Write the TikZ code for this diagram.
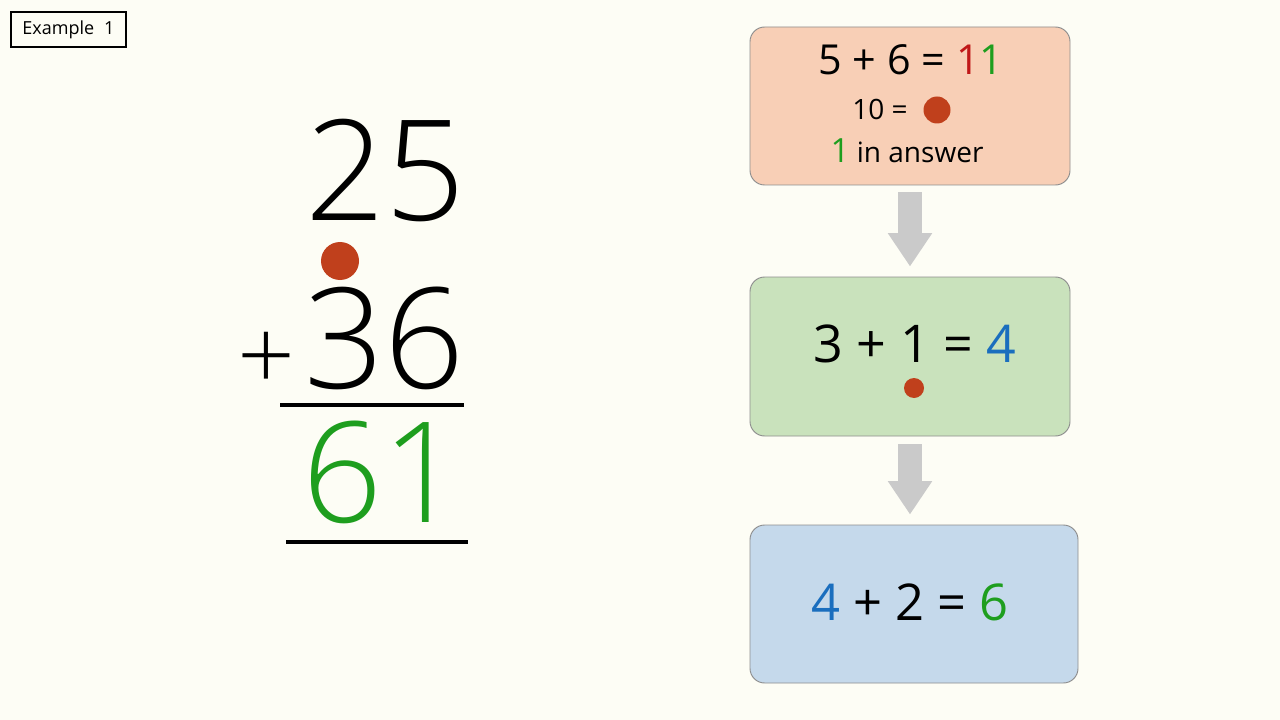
\documentclass[tikz,border=0pt]{standalone}
\usepackage{fontspec}
\setmainfont{Open Sans}
\IfFontExistsTF{Open Sans Light}{\newfontfamily\lightfont{Open Sans Light}}{\newfontfamily\lightfont{Open Sans}}
\usetikzlibrary{arrows.meta}
\definecolor{bgcream}{HTML}{FDFDF5}
\definecolor{peachfill}{HTML}{F8CFB6}
\definecolor{greenfill}{HTML}{C9E2BC}
\definecolor{bluefill}{HTML}{C5D9EB}
\definecolor{boxline}{HTML}{8E8E8E}
\definecolor{arrowgray}{HTML}{CACACA}
\definecolor{ansgreen}{HTML}{1E9E1E}
\definecolor{tenred}{HTML}{C01818}
\definecolor{numblue}{HTML}{1A6EBE}
\definecolor{dotred}{HTML}{C0401C}
\newcommand\myfs[1]{\fontsize{#1}{#1}\selectfont}
\tikzset{
  txt/.style={inner sep=0pt, anchor=base},
  bigtxt/.style={inner sep=0pt, anchor=base, font=\lightfont\myfs{105}},
  stepbox/.style={draw=boxline, line width=0.7pt, rounded corners=11pt, inner sep=0pt},
  bigarrow/.style={draw=arrowgray, line width=18pt, -{Triangle[width=31.5pt,length=25pt]}},
  tendot/.style={circle, fill=dotred, inner sep=0pt},
  rule/.style={line width=3pt, black}
}
\begin{document}
\begin{tikzpicture}[x=0.75pt,y=-0.75pt]
\useasboundingbox (0,0) rectangle (1280,720);
\fill[bgcream] (0,0) rectangle (1280,720);

% title box
\node[draw=black, line width=0.8pt, minimum width=86.25pt, minimum height=26.25pt, inner sep=0pt] (title) at (68.5,29.5) {\myfs{13.5}Example\hspace{0.55em}1};

% column addition
\node[bigtxt] (n25) at (385,221) {25};
\node[tendot, minimum size=28.5pt] (carry) at (340,261) {};
\node[txt, font=\lightfont\myfs{76}] (plus) at (266,391) {+};
\node[bigtxt] (n36) at (384,388) {36};
\draw[rule] (280,405) -- (464,405);
\node[bigtxt] (n61) at (382,522) {\color{ansgreen}61};
\draw[rule] (286,541.5) -- (468,541.5);

% step boxes
\node[stepbox, fill=peachfill, minimum width=240pt, minimum height=118.5pt] (b1) at (910,106) {};
\node[stepbox, fill=greenfill, minimum width=240pt, minimum height=119.25pt] (b2) at (910,356.5) {};
\node[stepbox, fill=bluefill, minimum width=246pt, minimum height=118.5pt] (b3) at (914,604) {};

% box 1 text
\node[txt] (l1) at (911,75) {\myfs{31}5 + 6 = {\color{tenred}1}{\color{ansgreen}1}};
\node[txt] (l2) at (880,120) {\myfs{21}10 =};
\node[tendot, minimum size=20.25pt] (d1) at (937,110) {};
\node[txt] (l3) at (907,163) {{\myfs{25}\color{ansgreen}1}\myfs{21} in answer};

% box 2 text
\node[txt] (m1) at (915,362) {\myfs{39}3 + 1 = {\color{numblue}4}};
\node[tendot, minimum size=15pt] (d2) at (914,388) {};

% box 3 text
\node[txt] (r1) at (910,620) {\myfs{38}{\color{numblue}4} + 2 = {\color{ansgreen}6}};

% arrows
\coordinate (t2) at (b2.south |- b3.north);
\draw[bigarrow] ([yshift=-5.25pt]b1.south) -- ([yshift=7.5pt]b2.north);
\draw[bigarrow] ([yshift=-6pt]b2.south) -- ([yshift=7.5pt]t2);
\end{tikzpicture}
\end{document}
